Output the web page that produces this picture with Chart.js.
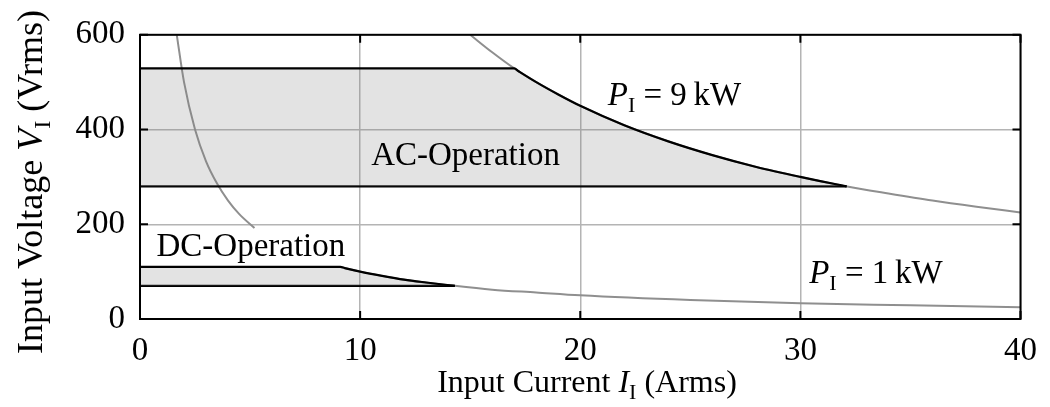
<!DOCTYPE html>
<html>
<head>
<meta charset="utf-8">
<script src="https://cdn.jsdelivr.net/npm/chart.js@4.4.1/dist/chart.umd.min.js"></script>
<style>
  html, body { margin: 0; padding: 0; background: #fff; }
  #wrap { width: 1050px; height: 407px; }
</style>
</head>
<body>
<div id="wrap"><canvas id="chart" width="1050" height="407"></canvas></div>
<script>
// Input current in Arms, input voltage in Vrms
const xTicks = [0, 10, 20, 30, 40];
const yTicks = [0, 200, 400, 600];

// constant input power P = 9 kW
const p9Current = [15, 16, 17, 18, 19, 20, 22, 24, 26, 28, 30, 32, 34, 36, 38, 40];
const p9Voltage = [600, 563, 529, 500, 474, 450, 409, 375, 346, 321, 300, 281, 265, 250, 237, 225];

// constant input power P = 1 kW (upper and lower visible pieces)
const p1UpperCurrent = [1.67, 2, 2.5, 3, 3.5, 4, 4.5, 5.2];
const p1UpperVoltage = [600, 500, 400, 333, 286, 250, 222, 192];
const p1LowerCurrent = [9.1, 10, 12, 14.3, 16, 18, 20, 25, 30, 35, 40];
const p1LowerVoltage = [110, 100, 83, 70, 62, 56, 50, 40, 33, 29, 25];

// AC operating area
const acTopCurrent = [0, 17, 17.2, 18, 19, 20, 22, 24, 26, 28, 30, 32.1];
const acTopVoltage = [529, 529, 523, 500, 474, 450, 409, 375, 346, 321, 300, 280];
const acBottomCurrent = [0, 32.1];
const acBottomVoltage = [280, 280];

// DC operating area
const dcTopCurrent = [0, 9.1, 9.3, 10, 11, 12, 13, 14.3];
const dcTopVoltage = [110, 110, 107.5, 100, 91, 83, 77, 70];
const dcBottomCurrent = [0, 14.3];
const dcBottomVoltage = [70, 70];

const SERIF = "'Liberation Serif', 'Times New Roman', serif";
const FS = 33;

function pts(xs, ys) {
  return xs.map((x, i) => ({ x: x, y: ys[i] }));
}

function curve(data, color, width, fillTo) {
  return {
    data: data,
    borderColor: color,
    borderWidth: width,
    pointRadius: 0,
    cubicInterpolationMode: "monotone",
    fill: fillTo === undefined ? false : { value: fillTo },
    backgroundColor: "rgba(128,128,128,0.22)"
  };
}

// text pieces: plain, italic, subscript
function richText(ctx, parts, x, y, align, size) {
  const fs = size || FS;
  const fontOf = p => (p.i ? "italic " : "") + (p.s ? Math.round(fs * 0.68) : fs) + "px " + SERIF;
  let total = 0;
  parts.forEach(p => { ctx.font = fontOf(p); total += ctx.measureText(p.t).width; });
  let cx = align === "center" ? x - total / 2 : x;
  ctx.textAlign = "left";
  ctx.textBaseline = "alphabetic";
  parts.forEach(p => {
    ctx.font = fontOf(p);
    ctx.fillText(p.t, cx, y + (p.s ? fs * 0.21 : 0));
    cx += ctx.measureText(p.t).width;
  });
}

const labels = [
  { x: 21.25, y: 452, parts: [{ t: "P", i: true }, { t: "I", s: true }, { t: " = 9\u2009kW" }] },
  { x: 30.4, y: 75, parts: [{ t: "P", i: true }, { t: "I", s: true }, { t: " = 1\u2009kW" }] },
  { x: 0.75, y: 133, parts: [{ t: "DC-Operation" }] },
  { x: 10.5, y: 325, parts: [{ t: "AC-Operation" }] }
];

const framePlugin = {
  id: "frame",
  afterDatasetsDraw(chart) {
    const ctx = chart.ctx;
    const a = chart.chartArea;
    const xs = chart.scales.x, ys = chart.scales.y;
    ctx.save();
    ctx.fillStyle = "#000";
    labels.forEach(l => richText(ctx, l.parts, xs.getPixelForValue(l.x), ys.getPixelForValue(l.y), "left"));

    ctx.strokeStyle = "#000";
    ctx.lineWidth = 2;
    ctx.strokeRect(a.left, a.top, a.right - a.left, a.bottom - a.top);
    ctx.beginPath();
    xTicks.forEach(v => {
      const px = xs.getPixelForValue(v);
      ctx.moveTo(px, a.bottom); ctx.lineTo(px, a.bottom - 8);
      ctx.moveTo(px, a.top); ctx.lineTo(px, a.top + 8);
    });
    yTicks.forEach(v => {
      const py = ys.getPixelForValue(v);
      ctx.moveTo(a.left, py); ctx.lineTo(a.left + 8, py);
      ctx.moveTo(a.right, py); ctx.lineTo(a.right - 8, py);
    });
    ctx.stroke();

    // axis titles
    richText(ctx, [{ t: "Input Current " }, { t: "I", i: true }, { t: "I", s: true }, { t: " (Arms)" }],
      587, 392, "center", 32);
    ctx.translate(42, 182);
    ctx.rotate(-Math.PI / 2);
    richText(ctx, [{ t: "Input Voltage " }, { t: "V", i: true }, { t: "I", s: true }, { t: " (Vrms)" }],
      0, 0, "center", 36);
    ctx.restore();
  }
};

new Chart(document.getElementById("chart"), {
  type: "line",
  data: {
    // first datasets are drawn on top
    datasets: [
      curve(pts(acTopCurrent, acTopVoltage), "#000", 2.2, 280),
      curve(pts(acBottomCurrent, acBottomVoltage), "#000", 2.2),
      curve(pts(dcTopCurrent, dcTopVoltage), "#000", 2.2, 70),
      curve(pts(dcBottomCurrent, dcBottomVoltage), "#000", 2.2),
      curve(pts(p9Current, p9Voltage), "#8f8f8f", 2),
      curve(pts(p1UpperCurrent, p1UpperVoltage), "#8f8f8f", 2),
      curve(pts(p1LowerCurrent, p1LowerVoltage), "#8f8f8f", 2)
    ]
  },
  options: {
    responsive: false,
    animation: false,
    layout: { padding: { top: 33, right: 25, bottom: 0, left: 0 } },
    plugins: { legend: { display: false }, tooltip: { enabled: false } },
    scales: {
      x: {
        type: "linear",
        min: 0, max: 40,
        afterBuildTicks: s => { s.ticks = xTicks.map(v => ({ value: v })); },
        afterFit: s => { s.height = 88; },
        grid: { color: "#b4b4b4", lineWidth: 1.5, drawTicks: false },
        border: { display: false },
        ticks: { color: "#000", padding: 13, font: { family: SERIF, size: FS } }
      },
      y: {
        min: 0, max: 600,
        afterBuildTicks: s => { s.ticks = yTicks.map(v => ({ value: v })); },
        afterFit: s => { s.width = 140; },
        grid: { color: "#b4b4b4", lineWidth: 1.5, drawTicks: false },
        border: { display: false },
        ticks: { color: "#000", padding: 15, font: { family: SERIF, size: FS } }
      }
    }
  },
  plugins: [framePlugin]
});
</script>
</body>
</html>
